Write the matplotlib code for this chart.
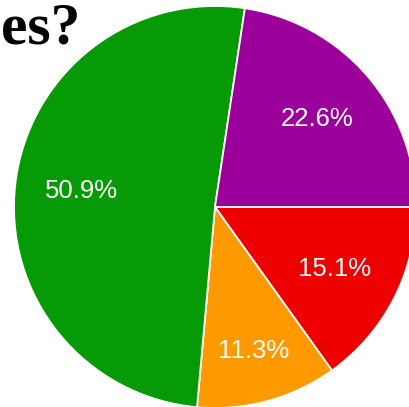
import numpy as np
import matplotlib.pyplot as plt

# survey answers, slices go clockwise from 3 o'clock
labels = ["A", "B", "C", "D"]
shares = [15.1, 11.3, 50.9, 22.6]
colors = ["#ee0000", "#ff9900", "#079a07", "#9b009b"]
title_tail = "es?"

fig = plt.figure(figsize=(4.09, 4.07), dpi=100)
ax = fig.add_axes([14 / 409, -1 / 407, 402 / 409, 402 / 407])

wedges, texts = ax.pie(
    shares,
    colors=colors,
    startangle=0,
    counterclock=False,
    normalize=True,
    wedgeprops=dict(edgecolor="white", linewidth=1.3),
)

# percentage labels straight from the shares (they sum to 99.9)
for w, s in zip(wedges, shares):
    mid = np.deg2rad((w.theta1 + w.theta2) / 2)
    r = 0.74 if s < 12 else 0.67
    ax.text(
        r * np.cos(mid), r * np.sin(mid), "%.1f%%" % s,
        ha="center", va="center", color="white", fontsize=18.5,
        family="Liberation Sans",
    )

ax.set_xlim(-1, 1)
ax.set_ylim(-1, 1)
ax.set_aspect("auto")
ax.axis("off")

fig.text(
    1 / 409, 1 - 43 / 407, title_tail,
    ha="left", va="baseline", fontsize=43, fontweight="bold",
    family="Liberation Serif", color="black",
)

fig.savefig("out.png", dpi=100)
